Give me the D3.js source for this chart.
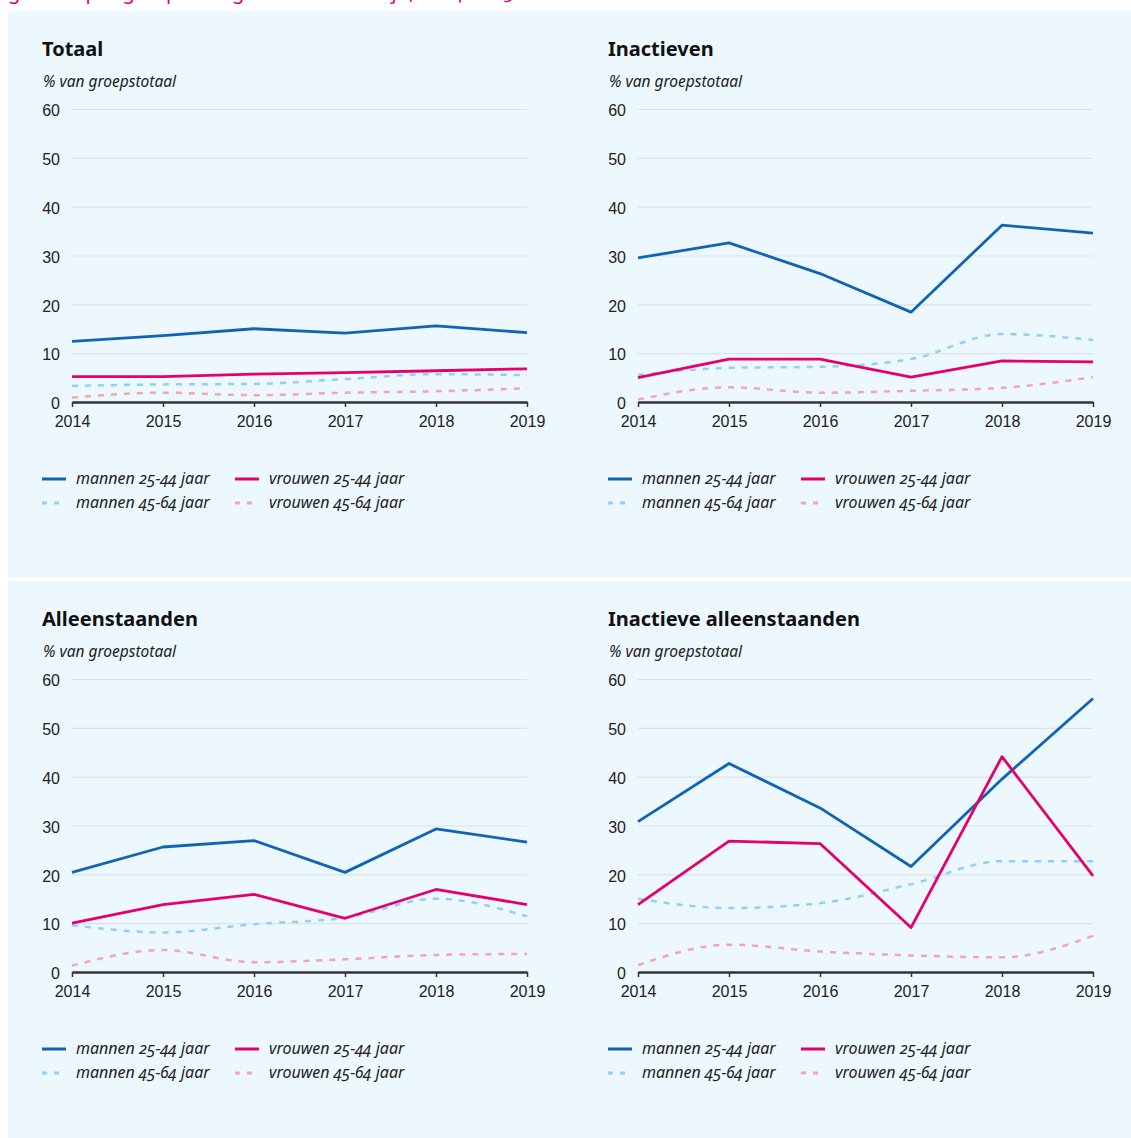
<!DOCTYPE html>
<html>
<head>
<meta charset="utf-8">
<script src="https://cdn.jsdelivr.net/npm/d3@7"></script>
<style>
  body { margin: 0; background: #fff; }
  svg { display: block; font-family: "Noto Sans", "Open Sans", sans-serif; font-feature-settings: "onum"; }
  .title { font-weight: bold; font-size: 20px; fill: #111; }
  .sub { font-style: italic; font-size: 15.5px; fill: #222; }
  .tick text { font-size: 16px; fill: #222; }
  .legend text { font-style: italic; font-size: 16px; fill: #222; }
</style>
</head>
<body>
<div id="chart"></div>
<script>
var years = [2014, 2015, 2016, 2017, 2018, 2019];
var yTicks = [0, 10, 20, 30, 40, 50, 60];

var seriesNames = ["mannen 25-44 jaar", "vrouwen 25-44 jaar", "mannen 45-64 jaar", "vrouwen 45-64 jaar"];
var seriesColors = ["#0f64b4", "#e5006d", "#8fd0fa", "#f6a2b9"];
var seriesDashed = [false, false, true, true];

var panelTitles = ["Totaal", "Inactieven", "Alleenstaanden", "Inactieve alleenstaanden"];

// values per panel, in order of seriesNames
var totaal = [
  [12.4, 13.6, 15.0, 14.1, 15.6, 14.2],
  [5.2, 5.2, 5.7, 6.0, 6.4, 6.8],
  [3.3, 3.6, 3.7, 4.7, 5.7, 5.5],
  [0.9, 1.9, 1.4, 1.9, 2.2, 2.8]
];
var inactieven = [
  [29.5, 32.6, 26.3, 18.4, 36.2, 34.6],
  [5.0, 8.8, 8.8, 5.1, 8.4, 8.2],
  [5.5, 7.0, 7.2, 8.8, 13.9, 12.7],
  [0.5, 3.0, 1.9, 2.3, 2.9, 5.1]
];
var alleenstaanden = [
  [20.4, 25.6, 26.9, 20.4, 29.3, 26.6],
  [10.0, 13.8, 15.9, 11.0, 16.9, 13.8],
  [9.6, 8.1, 9.8, 11.1, 15.0, 11.4],
  [1.3, 4.5, 2.0, 2.6, 3.5, 3.7]
];
var inactieveAlleenstaanden = [
  [30.8, 42.7, 33.6, 21.6, 39.5, 56.0],
  [13.8, 26.8, 26.3, 9.1, 44.1, 19.7],
  [15.0, 13.1, 14.1, 18.0, 22.7, 22.7],
  [1.4, 5.6, 4.2, 3.4, 3.0, 7.4]
];

var panelData = [totaal, inactieven, alleenstaanden, inactieveAlleenstaanden];

var width = 1131, height = 1138;
var plotWidth = 455, plotHeight = 293;

var svg = d3.select("#chart")
  .append("svg")
  .attr("width", width)
  .attr("height", height);

// header, cut off at the very top like the source
svg.append("text")
  .attr("x", 8)
  .attr("y", -1)
  .style("font-size", "20px")
  .style("fill", "#e5006d")
  .text("gebruik per groep naar geslacht en leeftijd, 2014-2019");

// background bands
svg.append("rect").attr("x", 8).attr("y", 11).attr("width", width - 8).attr("height", 566).attr("fill", "#edf7fe");
svg.append("rect").attr("x", 8).attr("y", 581).attr("width", width - 8).attr("height", height - 581).attr("fill", "#edf7fe");

var x = d3.scaleLinear()
  .domain([2014, 2019])
  .range([0, plotWidth]);

var y = d3.scaleLinear()
  .domain([0, 60])
  .range([plotHeight, 0]);

var solidLine = d3.line()
  .x((d, i) => x(years[i]))
  .y(d => y(d));

var smoothLine = d3.line()
  .x((d, i) => x(years[i]))
  .y(d => y(d))
  .curve(d3.curveMonotoneX);

panelData.forEach(function(data, p) {
  var col = p % 2, row = Math.floor(p / 2);
  var ox = col === 0 ? 72 : 638;
  var oy = row === 0 ? 109 : 679;

  var g = svg.append("g")
    .attr("transform", "translate(" + [ox, oy] + ")");

  // title and unit
  g.append("text")
    .attr("class", "title")
    .attr("x", -30)
    .attr("y", -53)
    .text(panelTitles[p]);

  g.append("text")
    .attr("class", "sub")
    .attr("x", -29)
    .attr("y", -22)
    .text("% van groepstotaal");

  // y axis with gridlines
  g.append("g")
    .attr("class", "yAxis")
    .call(
      d3.axisLeft(y)
      .tickValues(yTicks)
      .tickSizeInner(-plotWidth)
      .tickSizeOuter(0)
      .tickPadding(12)
    )
    .call(a => a.select(".domain").remove())
    .call(a => a.selectAll(".tick line").attr("stroke", "#dbe2ea").attr("stroke-width", 1.2))
    .call(a => a.selectAll(".tick text").attr("dy", "0.42em"));

  // x axis
  g.append("g")
    .attr("class", "xAxis")
    .attr("transform", "translate(0," + plotHeight + ")")
    .call(
      d3.axisBottom(x)
      .tickValues(years)
      .tickFormat(d3.format("d"))
      .tickSizeInner(5)
      .tickSizeOuter(0)
      .tickPadding(9)
    )
    .call(a => a.select(".domain").attr("stroke", "#333").attr("stroke-width", 2.5))
    .call(a => a.selectAll(".tick line").attr("stroke", "#333").attr("stroke-width", 1.5));

  // lines, dashed ones first
  [3, 2, 0, 1].forEach(function(s) {
    g.append("path")
      .datum(data[s])
      .attr("fill", "none")
      .attr("stroke", seriesColors[s])
      .attr("stroke-width", seriesDashed[s] ? 2.5 : 2.8)
      .attr("stroke-dasharray", seriesDashed[s] ? "6,7" : null)
      .attr("stroke-linejoin", "round")
      .attr("d", seriesDashed[s] ? smoothLine : solidLine);
  });

  // legend
  var legend = g.append("g")
    .attr("class", "legend")
    .attr("transform", "translate(-30," + (plotHeight + 77) + ")");

  var items = legend.selectAll("g")
    .data(seriesNames)
    .enter()
    .append("g")
    .attr("transform", (d, i) => "translate(" + [(i % 2) * 193, Math.floor(i / 2) * 24] + ")");

  items.append("line")
    .attr("x1", 0)
    .attr("x2", 24)
    .attr("stroke", (d, i) => seriesColors[i])
    .attr("stroke-width", 3)
    .attr("stroke-dasharray", (d, i) => seriesDashed[i] ? "5,7" : null);

  items.append("text")
    .attr("x", 34)
    .attr("dy", "0.32em")
    .text(d => d);
});
</script>
</body>
</html>
